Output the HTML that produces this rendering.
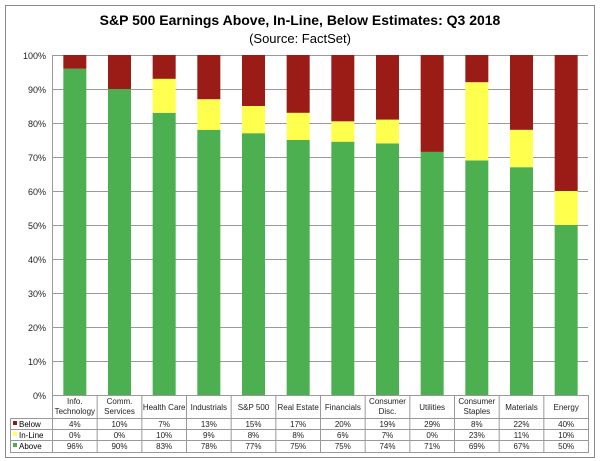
<!DOCTYPE html><html><head><style>body{margin:0;background:#fff}svg{display:block;font-family:"Liberation Sans",Arial,sans-serif}</style></head><body>
<svg width="600" height="461" viewBox="0 0 600 461">
<rect x="5.5" y="5.5" width="589" height="452" fill="#fff" stroke="#888"/>
<text x="300" y="25" text-anchor="middle" font-size="14" font-weight="bold">S&amp;P 500 Earnings Above, In-Line, Below Estimates: Q3 2018</text>
<text x="300" y="43" text-anchor="middle" font-size="13">(Source: FactSet)</text>
<g stroke="#999" stroke-width="1">
<line x1="52" y1="55.5" x2="588" y2="55.5"/><line x1="52" y1="89.5" x2="588" y2="89.5"/><line x1="52" y1="123.5" x2="588" y2="123.5"/><line x1="52" y1="157.5" x2="588" y2="157.5"/><line x1="52" y1="191.5" x2="588" y2="191.5"/><line x1="52" y1="225.5" x2="588" y2="225.5"/><line x1="52" y1="259.5" x2="588" y2="259.5"/><line x1="52" y1="293.5" x2="588" y2="293.5"/><line x1="52" y1="327.5" x2="588" y2="327.5"/><line x1="52" y1="361.5" x2="588" y2="361.5"/>
<line x1="52.5" y1="55" x2="52.5" y2="395"/>
</g>
<g font-size="9" text-anchor="end" fill="#222">
<text x="46" y="59">100%</text><text x="46" y="93">90%</text><text x="46" y="127">80%</text><text x="46" y="161">70%</text><text x="46" y="195">60%</text><text x="46" y="229">50%</text><text x="46" y="263">40%</text><text x="46" y="297">30%</text><text x="46" y="331">20%</text><text x="46" y="365">10%</text><text x="46" y="399">0%</text>
</g>
<g id="bars"></g>
<g stroke="#999" stroke-width="1" fill="none">
<rect x="52.5" y="395.5" width="536" height="57"/>
<line x1="10" y1="418.5" x2="588" y2="418.5"/><line x1="10" y1="429.5" x2="588" y2="429.5"/><line x1="10" y1="440.5" x2="588" y2="440.5"/>
<line x1="10.5" y1="418" x2="10.5" y2="452"/><line x1="10" y1="452.5" x2="53" y2="452.5"/>
</g>
<g id="tbl" font-size="8" text-anchor="middle" fill="#222"></g>
<rect x="13" y="421" width="4" height="4" fill="#8b1a1a"/><text x="19" y="427" font-size="8">Below</text>
<rect x="13" y="432" width="4" height="4" fill="#ffff66"/><text x="19" y="438" font-size="8">In-Line</text>
<rect x="13" y="443" width="4" height="4" fill="#4caf50"/><text x="19" y="449" font-size="8">Above</text>
</svg>
<script>
var d=[["Info.|Technology",96,0,4,"96%"],["Comm.|Services",90,0,10,"90%"],["Health Care",83,10,7,"83%"],["Industrials",78,9,13,"78%"],["S&P 500",77,8,15,"77%"],["Real Estate",75,8,17,"75%"],["Financials",74.5,6,20,"75%"],["Consumer|Disc.",74,7,19,"74%"],["Utilities",71.5,0,29,"71%"],["Consumer|Staples",69,23,8,"69%"],["Materials",67,11,22,"67%"],["Energy",50,10,40,"50%"]];
var ns="http://www.w3.org/2000/svg",b=document.getElementById("bars"),t=document.getElementById("tbl"),s=document.querySelector("svg");
function el(p,n,a,tx){var e=document.createElementNS(ns,n);for(var k in a)e.setAttribute(k,a[k]);if(tx!=null)e.textContent=tx;p.appendChild(e);return e;}
var w=536/12;
d.forEach(function(r,i){var x0=52.5+i*w,cx=x0+w/2,bx=cx-11.5;
var ya=395-r[1]*3.4,yi=ya-r[2]*3.4;
el(b,"rect",{x:bx,y:ya,width:23,height:r[1]*3.4,fill:"#4caf50"});
el(b,"rect",{x:bx,y:yi,width:23,height:r[2]*3.4,fill:"#ffff4d"});
el(b,"rect",{x:bx,y:55,width:23,height:yi-55,fill:"#9b1b17"});
if(i>0)el(s,"line",{x1:x0,y1:395,x2:x0,y2:452.5,stroke:"#999"});
var L=r[0].split("|");
if(L.length==1)el(t,"text",{x:cx,y:410},L[0]);else{el(t,"text",{x:cx,y:404},L[0]);el(t,"text",{x:cx,y:414},L[1]);}
el(t,"text",{x:cx,y:427},Math.round(r[3])+"%");
el(t,"text",{x:cx,y:438},Math.round(r[2])+"%");
el(t,"text",{x:cx,y:449},r[4]);
});
</script>
</body></html>
